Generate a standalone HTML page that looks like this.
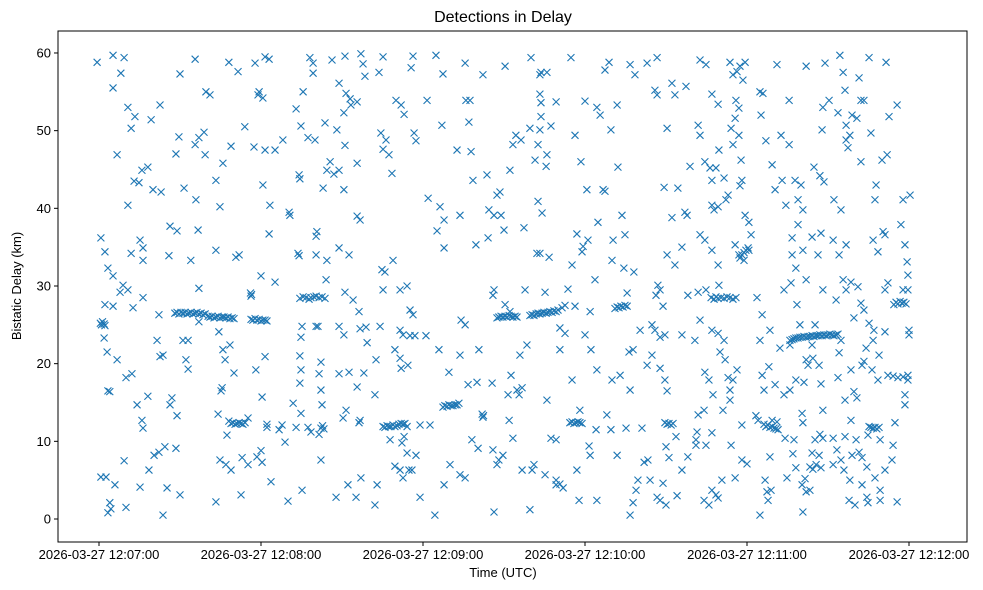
<!DOCTYPE html>
<html>
<head>
<meta charset="utf-8">
<style>
  html,body{margin:0;padding:0;background:#fff;}
  svg{display:block;font-family:"Liberation Sans","DejaVu Sans",sans-serif;}
</style>
</head>
<body>
<svg id="chart" width="983" height="590" viewBox="0 0 983 590" xmlns="http://www.w3.org/2000/svg">
  <rect x="0" y="0" width="983" height="590" fill="#fff"/>
  <text x="503" y="22" text-anchor="middle" font-size="16" fill="#000">Detections in Delay</text>
  <text x="503" y="577" text-anchor="middle" font-size="13" fill="#000">Time (UTC)</text>
  <text x="0" y="0" transform="translate(21,286) rotate(-90)" text-anchor="middle" font-size="13" fill="#000">Bistatic Delay (km)</text>
  <g id="marks"></g>
  <g id="axes"></g>
</svg>
<script>
// x values: seconds after 2026-03-27 12:07:00 UTC; y values: bistatic delay in km
const xTickValues = [0, 60, 120, 180, 240, 300];
const xTickLabels = ["2026-03-27 12:07:00","2026-03-27 12:08:00","2026-03-27 12:09:00","2026-03-27 12:10:00","2026-03-27 12:11:00","2026-03-27 12:12:00"];
const yTickValues = [0, 10, 20, 30, 40, 50, 60];
const yTickLabels = ["0","10","20","30","40","50","60"];

const scatterPoints = [
[-0.7,58.8],[5.2,59.7],[9.3,59.4],[8.1,57.4],[5.2,55.5],[10.7,53.0],[11.9,50.3],[13.3,51.8],[6.7,46.9],[10.7,40.4],[13,43.5],[0.7,36.2],[2.2,34.4],[3.3,32.3],[5.2,31.3],[2.2,27.6],[5.2,27.4],[1.9,23.3],[3,21.5],[6.7,20.5],[3.3,16.5],[4,16.4],[10,18.2],[12.2,18.7],[0.7,5.4],[2.6,5.4],[4,2.1],[4.4,1.3],[3.3,0.8],[5.9,4.4],[9.3,7.5],[10,1.5],[7.8,29.2],[8.9,30.1],[10.7,29.5],[11.9,34.2],[12.6,27.2],
[15.2,35.9],[16.3,34.9],[16.3,33.3],[16.3,28.5],[14.8,43.3],[15.9,44.9],[18.1,45.3],[20,42.4],[23,42.1],[19.3,51.4],[22.6,53.3],[15.9,12.7],[16.3,11.7],[14.1,14.7],[18.1,15.8],[15.2,4.1],[18.5,6.3],[20.4,8.2],[22.2,8.6],[23.7,0.5],[24.4,9.3],[25.2,4.0],[22.6,20.9],[23.7,21.1],[21.5,23.0],[22.2,26.3],[25.9,33.9],[26.3,37.7],[28.9,37.1],[28.5,47.0],[30,57.3],[29.6,49.2],[31.5,42.6],[26.3,14.7],[27,15.6],[28.9,13.3],[28.5,9.1],[30,3.1],[31.1,23.0],[33,23.0],[32.2,20.5],[33,19.3],
[35.6,59.2],[39.6,55.0],[41.1,54.6],[38.9,49.8],[37,49.1],[35.6,48.2],[39.3,46.9],[36.7,37.2],[34,33.3],[37,29.7],[35.9,41.1],[44.8,40.2],[43.3,34.6],[43.3,43.6],[45.9,45.8],[48.1,58.8],[51.5,57.6],[48.9,48.0],[54,50.5],[50.7,33.7],[51.9,34.0],[44.4,24.1],[45.9,21.8],[48.5,22.4],[45.2,16.5],[45.6,16.9],[50,18.8],[46.7,20.5],[37,25.4],[44.1,13.5],[43.3,2.2],[44.8,7.6],[47,7.0],[48.9,6.3],[52.6,3.1],[53,7.9],[47.4,10.8],
[57.8,58.7],[61.5,59.5],[63,59.2],[58.9,54.6],[60.7,54.2],[59.3,55.0],[57.4,47.9],[61.5,47.5],[63.3,40.4],[60.7,43.0],[63,36.7],[60,31.3],[65.2,30.5],[68.1,48.8],[65.2,47.5],[58.1,19.2],[61.5,20.9],[60.4,15.7],[55.2,13.0],[58.5,8.0],[60.4,7.3],[60,8.8],[55.2,7.0],[62.2,11.8],[62.2,12.2],[63.7,4.8],[66.7,11.5],[67.8,12.1],[68.9,9.9],[70,2.3],[70.4,39.5],[70.7,39.1],[74.1,44.3],[74.4,43.8],[73.7,34.2],[74.1,33.9],[73,52.8],[74.8,50.6],[75.6,55.0],[78.1,59.4],[79.3,58.7],[79.3,57.4],[77.4,49.1],[80,48.8],[80.7,37.0],[80.4,36.4],[80.4,34.0],[75.2,24.8],[74.8,23.4],[74.4,21.0],[74.8,19.2],[74.4,17.5],[71.9,14.9],[74.8,13.6],[73,11.8],[80.4,24.8],[81.1,24.8],[82.2,20.2],[81.5,18.7],[82.2,16.6],[82.6,14.7],[77.4,11.8],[78.5,11.2],[81.5,10.9],[82.2,7.6],[75.2,3.7],[84.1,30.8],[84.4,33.3],[83,42.6],[84.4,44.9],[83.7,51.0],[85.6,46.0],
[86.3,59.1],[91.1,59.6],[88.9,56.1],[91.5,54.8],[93.3,53.3],[95.6,53.7],[93,54.1],[90.7,52.3],[97,59.9],[97.8,58.6],[98.5,57.0],[105.2,59.5],[103.7,57.5],[88.1,50.1],[91.1,48.1],[95.6,45.8],[88.9,44.9],[87,44.4],[90.7,42.4],[95.6,39.0],[96.7,38.5],[104.4,49.7],[106.3,48.8],[105.2,47.6],[107.4,46.9],[108.5,44.5],[110,53.9],[111.9,53.3],[113,52.1],[115.6,58.1],[116.3,59.6],[116.7,49.7],[117.4,48.7],[121.5,53.9],[121.9,41.3],[125.2,37.1],[88.9,34.9],[92.6,34.0],[91.1,29.2],[94.1,28.2],[96.3,26.7],[88.9,24.8],[90.7,23.7],[96.7,24.5],[98.9,24.7],[99.3,22.7],[104.1,24.8],[104.8,32.1],[105.9,31.8],[108.9,33.3],[111.5,29.5],[105.2,29.5],[114.1,30.0],[115.2,26.9],[116.3,26.3],[111.5,24.3],[112.6,23.7],[115.2,23.6],[117,23.6],[121.1,23.6],[88.9,18.7],[92.6,18.9],[95.6,17.0],[98.1,18.8],[102.6,20.5],[102.2,16.0],[109.6,21.8],[111.5,20.7],[111.9,19.4],[114.4,19.8],[91.5,14.0],[90.4,13.0],[96.3,12.4],[96.7,12.7],[107.8,10.2],[113,10.6],[112.2,9.8],[114.1,8.5],[111.5,6.3],[114.8,6.3],[115.9,6.3],[112.6,5.3],[109.6,6.8],[87.8,2.8],[92.2,4.4],[95.2,2.8],[102.2,1.8],[103,4.4],[97,5.3],[118.9,2.8],[118.9,12.1],[122.6,12.1],[124.4,0.5],[117.4,8.2],
[124.8,59.7],[127.4,57.3],[135.6,58.7],[135.9,53.9],[137.4,53.9],[137,51.1],[142.2,57.2],[150.4,58.3],[127,50.7],[132.6,47.5],[137.8,47.3],[138.5,43.6],[126.3,40.2],[127.8,38.5],[127.8,34.9],[133.7,39.1],[144.4,39.8],[146.3,39.1],[148.9,39.1],[147.4,41.7],[148.5,42.1],[143.7,44.3],[139.6,35.3],[144.1,36.2],[150,37.2],[134.1,25.6],[135.6,25.0],[133.7,21.1],[140.7,21.8],[136.7,17.3],[140,17.6],[145.6,17.5],[146.3,29.5],[145.9,28.8],[150.4,27.6],[152.2,26.7],[125.9,21.8],[129.6,18.9],[127.8,4.4],[130,7.0],[133.7,5.7],[135.6,5.3],[138.1,10.2],[140.4,9.1],[146.3,0.9],[147.4,7.0],[148.1,7.6],[149.6,8.2],[145.9,8.9],[151.9,12.7],[153.3,10.4],[151.5,16.0],[152.6,18.5],[154.8,16.6],[155.6,16.0],[156.7,16.9],[155.9,21.1],[158.5,22.4],[159.6,1.2],[160.4,6.3],[161.1,7.0],[156.7,6.3],[153.3,48.2],[154.4,49.4],[152.2,44.9],[156.3,48.8],[157.4,37.5],[157.8,29.5],
[160,59.4],[163.7,57.5],[165.9,57.5],[163.3,57.2],[163.3,54.7],[163.7,53.6],[163.7,51.8],[159.6,50.3],[163.3,50.1],[167.4,50.6],[162.6,48.2],[161.5,46.2],[165.9,46.9],[169.3,53.7],[165.6,45.4],[162.6,40.9],[163.3,34.2],[162.2,34.2],[166.7,33.7],[165.2,29.2],[164.1,39.4],[174.8,59.4],[176.3,49.4],[178.5,46.0],[180,53.8],[184.4,53.0],[185.6,52.0],[180.7,42.4],[184.8,38.2],[177,36.7],[179.3,35.1],[178.9,34.4],[181.1,35.9],[183.7,30.8],[175.2,32.7],[173.7,29.6],[176.3,27.4],[170.7,24.6],[170.7,21.8],[172.6,23.9],[175.2,17.9],[181.9,26.7],[180,23.7],[182.2,21.8],[184.4,19.2],[178.1,14.0],[165.9,15.3],[167.4,10.4],[169.3,10.2],[165.2,5.7],[169.3,5.0],[169.3,4.4],[170.7,4.5],[171.9,4.0],[177,6.3],[177.8,2.4],[181.5,9.4],[184.4,2.4],[181.9,8.2],[184.1,11.5],
[187.4,57.8],[188.9,58.8],[186.7,42.4],[187.4,42.2],[189.6,50.1],[191.9,53.3],[192.2,45.3],[193.7,39.1],[194.8,36.6],[196.7,58.5],[198.5,57.2],[203,58.7],[206.7,59.4],[205.9,55.2],[206.7,54.6],[210.4,50.3],[212.2,56.1],[217.4,55.7],[213.3,54.6],[209.3,42.7],[212.2,38.8],[214.4,42.6],[217,39.5],[217.8,39.1],[190.4,35.9],[190,33.3],[194.4,32.3],[195.6,29.1],[198.1,31.8],[206.3,28.8],[207.8,29.5],[207,30.1],[208.9,27.4],[210.4,34.0],[213.3,32.7],[215.9,35.0],[218.1,28.8],[204.8,25.0],[200.4,24.3],[205.9,24.3],[207.8,23.4],[209.6,23.7],[215.9,23.7],[190,17.9],[193,18.5],[196.3,21.5],[197.8,21.8],[196.7,16.6],[204.8,21.1],[203,19.8],[207.8,19.4],[210.4,16.5],[209.6,17.9],[188.1,13.4],[189.6,11.5],[195.2,11.7],[191.9,8.2],[196.7,0.5],[197.8,2.1],[198.9,3.7],[199.6,5.0],[201.9,7.3],[201.1,11.7],[203.3,7.6],[204.1,5.0],[206.7,2.8],[208.9,4.6],[210,1.8],[207.8,2.4],[210,9.3],[211.1,7.9],[213.7,10.6],[214.1,3.0],[215.9,6.3],[218.1,8.0],
[222.6,59.1],[224.8,58.5],[227,54.7],[221.9,50.7],[222.6,49.4],[218.9,45.4],[224.4,46.0],[226.3,45.2],[228.5,45.2],[227,43.6],[229.3,53.4],[229.6,47.5],[231.5,43.9],[232.2,41.1],[233,41.7],[227,40.4],[227.8,39.8],[229.3,40.2],[233.7,58.8],[234.8,57.2],[236.3,57.6],[237.4,58.3],[239.3,58.8],[238.5,56.5],[235.9,53.9],[237,52.9],[235.6,51.6],[234.1,50.3],[234.8,48.2],[237,49.4],[237.8,46.2],[237.4,42.9],[238.1,43.6],[239.3,39.1],[240.7,38.2],[241.5,36.6],[240.7,34.6],[238.9,33.3],[237,34.0],[235.6,35.3],[244.8,55.0],[245.9,54.8],[245.2,52.0],[247,48.7],[249.3,45.6],[250.4,42.4],[251.1,58.5],[222.6,36.6],[224.4,35.9],[227,34.6],[229.3,32.7],[229.6,30.1],[221.9,29.2],[224.8,29.5],[222.6,25.6],[220.7,23.0],[227,24.3],[229.3,23.9],[231.5,23.0],[230,21.5],[231.9,20.5],[224.4,18.9],[225.9,17.9],[227.4,16.0],[221.9,13.4],[224.1,14.0],[221.5,11.2],[221.1,10.2],[221.1,9.5],[224.8,9.5],[227,11.1],[231.1,14.0],[233.7,16.6],[234.8,17.9],[236.3,19.2],[233,18.2],[233.7,15.3],[238.1,12.1],[234.1,9.5],[235.6,5.3],[238.1,7.6],[240,7.1],[227,3.7],[225.9,1.8],[228.5,3.1],[229.3,2.7],[230.7,5.0],[224.1,2.4],[243.3,13.3],[244.1,12.7],[244.8,0.5],[246.7,5.0],[247.4,3.5],[248.9,3.7],[247.8,2.4],[248.5,8.0],[249.3,12.7],[251.1,12.5],[245.6,18.5],[246.3,16.6],[248.1,19.6],[250.4,17.3],[245.6,26.3],[248.5,24.3],[244.8,23.0],[243.7,28.5],
[252.6,49.4],[255.6,53.9],[253,43.6],[254.4,40.4],[255.6,48.2],[257.8,43.6],[256.7,36.2],[256.7,34.0],[260,43.0],[260.7,39.8],[261.9,58.3],[258.9,37.9],[258.9,41.1],[260.7,34.6],[258.1,32.3],[253.7,29.5],[256.3,30.4],[258.5,27.6],[261.9,30.8],[259.6,25.0],[252.2,22.0],[253.7,16.0],[255.9,16.6],[255.9,22.4],[258.1,17.9],[261.9,20.5],[261.1,17.6],[254.1,10.4],[257.4,10.2],[257,8.4],[254.8,5.3],[258.1,6.6],[260.4,4.4],[261.5,5.2],[261.9,3.5],[260.7,0.9],[263.3,3.7],[264.1,8.5],[263.3,6.7],[264.4,6.4],[265.6,7.0],[266.7,8.2],[267.4,6.6],[268.1,10.4],[267,10.9],[260.7,12.4],[260.4,13.6],[265.2,10.2],[268.1,14.0],[262.6,19.8],[264.4,20.7],[266.7,19.8],[267.4,17.4],[264.1,22.4],[265.2,25.0],[264.1,36.3],[266.3,34.0],[267.4,36.8],[268.1,29.5],[264.8,45.3],[267,44.2],[268.5,43.4],[268.1,53.0],[267.8,50.1],[270.4,53.9],[268.9,58.7],[274.4,59.7],[275.6,57.5],[276.3,55.2],[273.7,52.3],[278.1,49.4],[276.7,48.8],[277.4,47.8],[276.7,50.7],[278.9,52.0],[280.7,51.6],[282.2,53.9],[281.5,56.8],[283.3,53.9],[285.2,59.4],[282.2,46.0],[272.2,41.1],[274.8,39.8],[271.9,35.9],[274.1,34.0],[276.7,35.3],[275.6,30.8],[278.5,30.5],[276.7,29.5],[273,28.2],[281.1,29.9],[282.2,27.8],[279.6,25.9],[283.3,26.9],[274.8,23.0],[274.1,21.4],[278.5,19.2],[273.7,18.2],[279.6,16.4],[276.3,15.3],[280.7,15.6],[282.6,19.8],[283.3,20.3],[278.5,12.7],[276.3,10.6],[271.9,10.4],[273.3,8.9],[274.8,7.6],[271.9,7.0],[275.9,6.3],[278.1,5.0],[278.9,8.2],[280.4,10.2],[281.5,8.6],[282.6,7.9],[284.4,6.7],[284.4,2.8],[277.8,2.4],[280,1.8],[282.6,4.4],
[286.7,35.9],[288.5,34.4],[290.4,37.0],[291.1,36.6],[287.4,41.1],[287.8,43.0],[292.6,51.8],[291.9,46.9],[291.5,58.8],[285.9,49.7],[290,46.2],[295.6,53.3],[297.8,41.1],[297,37.9],[298.5,35.3],[300.4,41.7],[299.3,33.1],[299.6,31.4],[291.1,29.5],[292.2,30.4],[297.8,29.5],[299.6,29.5],[285.2,25.2],[287,24.3],[286.7,23.0],[288.9,21.1],[284.1,22.0],[291.1,24.1],[286.3,19.2],[288.5,17.9],[292.2,18.5],[294.1,18.4],[295.9,18.2],[297.8,18.3],[299.6,17.9],[299.6,18.5],[300,24.3],[300,23.7],[298.5,16.0],[298.5,14.7],[294.8,12.4],[284.8,10.8],[289.3,10.2],[294.1,9.5],[293.7,7.6],[291.1,6.3],[287.4,5.3],[289.3,3.7],[284.8,2.1],[295.6,2.2],[289.3,2.4]
];

const trackPoints = [
[0.5,25.2],[0.9,25.0],[1.3,25.4],[1.9,25.1],[2.2,24.9],
[28.1,26.5],[28.9,26.6],[29.6,26.4],[30.4,26.6],[31.1,26.5],[31.9,26.6],[32.6,26.4],[33.3,26.5],[34.1,26.6],[34.8,26.4],[35.6,26.5],[36.3,26.6],[37.0,26.4],[37.8,26.5],[38.5,26.3],[39.3,26.4],
[40.4,26.1],[41.1,26.0],[41.9,26.1],[42.6,25.9],[43.3,26.0],[44.1,26.1],[44.8,25.9],[45.6,26.0],[46.3,26.0],[47.0,25.9],[47.8,26.0],[48.5,25.8],[49.3,25.9],[50.0,25.8],
[48.1,12.6],[48.9,12.3],[49.6,12.4],[50.4,12.2],[51.1,12.3],[51.9,12.4],[52.6,12.3],[53.3,12.2],[54.1,12.4],
[56.3,25.7],[57.0,25.6],[57.8,25.8],[58.5,25.6],[59.3,25.7],[60.0,25.5],[60.7,25.6],[61.5,25.6],[62.2,25.5],
[56.1,29.1],[56.3,28.7],[56.5,28.9],
[74.4,28.4],[75.6,28.6],[76.7,28.5],[77.8,28.3],[78.5,28.5],[79.6,28.6],[80.4,28.7],[81.5,28.5],[82.6,28.6],[83.7,28.4],
[82.2,11.7],[82.8,12.0],[83.3,11.6],
[105.2,11.9],[105.9,11.8],[106.7,12.0],[107.4,11.9],[108.1,11.9],[108.9,12.1],[109.6,11.9],[110.4,12.0],[111.1,12.2],[111.9,12.3],[112.6,12.2],[113.3,12.3],[114.1,11.9],
[127.4,14.4],[128.1,14.6],[128.9,14.5],[129.6,14.7],[130.4,14.6],[131.1,14.6],[131.9,14.7],[132.6,14.7],[133.3,14.9],
[141.9,13.5],[142.2,13.1],[142.4,13.3],
[147.4,25.9],[148.1,26.0],[148.9,26.1],[149.6,26.0],[150.4,26.1],[151.1,26.0],[151.9,26.2],[152.6,26.1],[153.3,26.0],[154.1,26.1],[154.8,26.0],
[159.6,26.2],[160.4,26.3],[161.1,26.2],[161.9,26.4],[162.6,26.5],[163.3,26.4],[164.1,26.5],[164.8,26.6],[165.6,26.5],[166.3,26.6],[167.0,26.7],[167.8,26.6],[168.5,26.8],[169.3,26.7],[170.0,26.9],[171.5,27.2],[172.6,27.5],
[174.4,12.4],[175.2,12.5],[175.9,12.3],[176.7,12.4],[177.4,12.5],[178.1,12.4],[178.9,12.3],
[191.1,27.1],[191.9,27.3],[192.6,27.2],[193.3,27.4],[194.1,27.3],[194.8,27.5],[195.6,27.4],
[209.6,12.4],[210.4,12.2],[211.1,12.3],[211.9,12.1],[212.6,12.3],
[226.7,28.5],[227.8,28.3],[228.5,28.6],[229.3,28.4],[230.4,28.5],[231.5,28.4],[232.6,28.6],[233.7,28.5],[234.8,28.3],[235.9,28.5],
[237.4,33.6],[238.1,34.0],[238.9,34.3],[239.6,34.6],[240.4,34.9],
[246.3,12.2],[247.0,11.9],[247.8,12.1],[248.5,11.8],[249.3,11.9],[250.0,11.7],[250.7,11.6],[251.5,11.5],
[255.9,23.0],[256.7,23.1],[257.4,23.2],[258.1,23.3],[258.9,23.3],[259.6,23.4],[260.4,23.4],[261.1,23.5],[261.9,23.4],[262.6,23.5],[263.3,23.5],[264.1,23.6],[264.8,23.5],[265.6,23.6],[266.3,23.6],[267.0,23.7],[267.8,23.6],[268.5,23.7],[269.3,23.6],[270.0,23.7],[270.7,23.8],[271.5,23.7],[272.2,23.6],[273.0,23.7],[273.7,23.8],
[285.2,11.9],[285.9,11.8],[286.7,11.7],[287.4,11.8],[288.1,11.6],[288.9,11.8],
[294.4,27.6],[295.2,27.9],[295.9,27.7],[296.7,28.0],[297.4,27.8],[298.1,27.9],[298.9,27.7]
];

const NS = "http://www.w3.org/2000/svg";
const plot = {left: 58, right: 967, top: 31, bottom: 542};
const xDomain = [-15.2, 321.5];
const yDomain = [-2.98, 62.8];
function xScale(v){ return 99 + v * 2.7; }
function yScale(v){ return 519 - v * 7.767; }

const marks = document.getElementById('marks');
const axes = document.getElementById('axes');

function drawX(p){
  const cx = xScale(p[0]), cy = yScale(p[1]), s = 3.5;
  const path = document.createElementNS(NS, 'path');
  path.setAttribute('d', `M${cx-s},${cy-s}L${cx+s},${cy+s}M${cx-s},${cy+s}L${cx+s},${cy-s}`);
  path.setAttribute('stroke', '#1f77b4');
  path.setAttribute('stroke-width', '1.1');
  path.setAttribute('fill', 'none');
  
  
  marks.appendChild(path);
}
scatterPoints.forEach(drawX);
trackPoints.forEach(drawX);

// frame
const frame = document.createElementNS(NS, 'rect');
frame.setAttribute('x', plot.left);
frame.setAttribute('y', plot.top);
frame.setAttribute('width', plot.right - plot.left);
frame.setAttribute('height', plot.bottom - plot.top);
frame.setAttribute('fill', 'none');
frame.setAttribute('stroke', '#000');
frame.setAttribute('stroke-width', '1');


axes.appendChild(frame);

xTickValues.forEach((v, i) => {
  const x = xScale(v);
  const t = document.createElementNS(NS, 'line');
  t.setAttribute('x1', x); t.setAttribute('x2', x);
  t.setAttribute('y1', plot.bottom); t.setAttribute('y2', plot.bottom + 4);
  t.setAttribute('stroke', '#000');
  
  
  axes.appendChild(t);
  const lbl = document.createElementNS(NS, 'text');
  lbl.setAttribute('x', x); lbl.setAttribute('y', plot.bottom + 17);
  lbl.setAttribute('text-anchor', 'middle');
  lbl.setAttribute('font-size', '13');
  lbl.textContent = xTickLabels[i];
  
  
  axes.appendChild(lbl);
});

yTickValues.forEach((v, i) => {
  const y = yScale(v);
  const t = document.createElementNS(NS, 'line');
  t.setAttribute('x1', plot.left - 4); t.setAttribute('x2', plot.left);
  t.setAttribute('y1', y); t.setAttribute('y2', y);
  t.setAttribute('stroke', '#000');
  
  
  axes.appendChild(t);
  const lbl = document.createElementNS(NS, 'text');
  lbl.setAttribute('x', plot.left - 7); lbl.setAttribute('y', y + 4.5);
  lbl.setAttribute('text-anchor', 'end');
  lbl.setAttribute('font-size', '13');
  lbl.textContent = yTickLabels[i];
  
  
  axes.appendChild(lbl);
});
</script>
</body>
</html>
